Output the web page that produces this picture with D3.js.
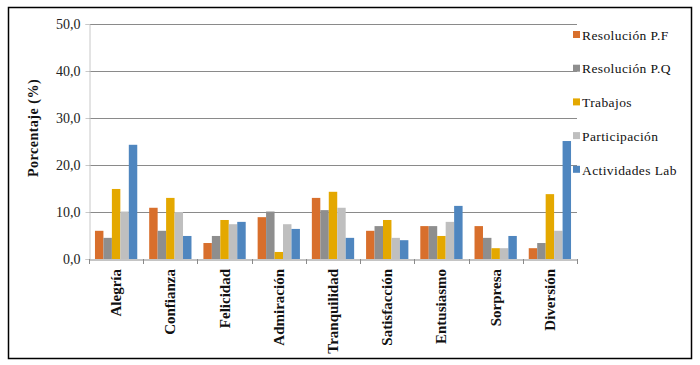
<!DOCTYPE html>
<html>
<head>
<meta charset="utf-8">
<script src="https://cdn.jsdelivr.net/npm/d3@7"></script>
<style>
  body { margin: 0; background: #fff; }
  svg { display: block; }
  text { font-family: 'Liberation Serif', serif; }
</style>
</head>
<body>
<svg id="chart" width="700" height="365"></svg>
<script>
const categories = ['Alegría', 'Confianza', 'Felicidad', 'Admiración', 'Tranquilidad', 'Satisfacción', 'Entusiasmo', 'Sorpresa', 'Diversión']
const seriesNames = ['Resolución P.F', 'Resolución P.Q', 'Trabajos', 'Participación', 'Actividades Lab']
const resolucionPF = [6.0, 10.9, 3.4, 8.9, 13.0, 6.0, 7.0, 7.0, 2.3]
const resolucionPQ = [4.5, 6.0, 4.9, 10.1, 10.4, 7.0, 7.0, 4.5, 3.4]
const trabajos = [14.9, 13.0, 8.3, 1.5, 14.3, 8.3, 4.9, 2.3, 13.8]
const participacion = [10.1, 10.0, 7.4, 7.4, 10.9, 4.5, 7.9, 2.3, 6.0]
const actividadesLab = [24.3, 4.9, 7.9, 6.4, 4.5, 4.0, 11.3, 4.9, 25.1]
const yTicks = [0, 10, 20, 30, 40, 50]
const colors = ['#d86f2c', '#8e8e8e', '#e4a800', '#bfbfbf', '#4f86bf']

const seriesValues = [resolucionPF, resolucionPQ, trabajos, participacion, actividadesLab]
const serif = 'Liberation Serif, Times New Roman, serif'

const svg = d3.select('#chart')
const margin = { left: 89, right: 577, top: 24, bottom: 259 }

// outer frame
svg.append('rect')
  .attr('x', 8.5).attr('y', 7.5)
  .attr('width', 683).attr('height', 351)
  .attr('fill', 'none')
  .attr('stroke', '#000')
  .attr('stroke-width', 1.5)

const x0 = d3.scaleBand()
  .domain(categories)
  .range([margin.left, margin.right])
  .paddingInner(0.22)
  .paddingOuter(0.11)

const x1 = d3.scaleBand()
  .domain(seriesNames)
  .range([0, x0.bandwidth()])

const y = d3.scaleLinear()
  .domain([0, 50])
  .range([margin.bottom, margin.top])

// gridlines
svg.append('g')
  .selectAll('line')
  .data(yTicks.slice(1))
  .join('line')
  .attr('x1', margin.left)
  .attr('x2', margin.right)
  .attr('y1', d => Math.round(y(d)) + 0.5)
  .attr('y2', d => Math.round(y(d)) + 0.5)
  .attr('stroke', '#8a8a8a')
  .attr('stroke-width', 1)

// y axis
const yAxis = d3.axisLeft(y)
  .tickValues(yTicks)
  .tickSize(4)
  .tickFormat(d => d3.format('.1f')(d).replace('.', ','))

const gy = svg.append('g')
  .attr('transform', `translate(${margin.left + 0.5},0)`)
  .call(yAxis)
  .attr('font-family', serif)
  .attr('font-size', 14)
gy.select('.domain').attr('stroke', '#c8c8c8')
gy.selectAll('.tick line').attr('stroke', '#c8c8c8')
gy.selectAll('.tick text')
  .attr('x', -9)
  .attr('fill', '#222')

// bars
const groups = svg.append('g')
  .selectAll('g')
  .data(categories)
  .join('g')
  .attr('transform', d => `translate(${x0(d)},0)`)

groups.selectAll('rect')
  .data((d, i) => seriesNames.map((s, j) => ({ s, j, v: seriesValues[j][i] })))
  .join('rect')
  .attr('x', d => x1(d.s))
  .attr('width', x1.bandwidth())
  .attr('y', d => y(d.v))
  .attr('height', d => y(0) - y(d.v))
  .attr('fill', d => colors[d.j])

// x axis
const xAxis = d3.axisBottom(x0).tickSize(0).tickFormat('')
const gx = svg.append('g')
  .attr('transform', `translate(0,${Math.round(y(0)) + 0.5})`)
  .call(xAxis)
gx.select('.domain').attr('stroke', '#8a8a8a')

const step = x0.step()
svg.append('g')
  .selectAll('line')
  .data(d3.range(categories.length + 1))
  .join('line')
  .attr('x1', i => Math.round(margin.left + i * step) + 0.5)
  .attr('x2', i => Math.round(margin.left + i * step) + 0.5)
  .attr('y1', y(0))
  .attr('y2', y(0) + 5)
  .attr('stroke', '#8a8a8a')

// category labels (rotated)
svg.append('g')
  .selectAll('text')
  .data(categories)
  .join('text')
  .attr('transform', d => `translate(${x0(d) + x0.bandwidth() / 2 + 5},${y(0) + 10}) rotate(-90)`)
  .attr('text-anchor', 'end')
  .attr('font-family', serif)
  .attr('font-size', 15)
  .attr('font-weight', 'bold')
  .attr('fill', '#111')
  .text(d => d)

// y title
svg.append('text')
  .attr('transform', 'translate(38,128) rotate(-90)')
  .attr('text-anchor', 'middle')
  .attr('font-family', serif)
  .attr('font-size', 14)
  .attr('font-weight', 'bold')
  .attr('letter-spacing', 0.5)
  .attr('fill', '#111')
  .text('Porcentaje (%)')

// legend
const legend = svg.append('g')
  .selectAll('g')
  .data(seriesNames)
  .join('g')
  .attr('transform', (d, i) => `translate(573,${35 + i * 33.7})`)

legend.append('rect')
  .attr('x', 0).attr('y', -4)
  .attr('width', 7).attr('height', 7)
  .attr('fill', (d, i) => colors[i])

legend.append('text')
  .attr('x', 9)
  .attr('y', 0)
  .attr('dy', '0.35em')
  .attr('font-family', serif)
  .attr('font-size', 13.5)
  .attr('letter-spacing', 0.4)
  .attr('fill', '#111')
  .text(d => d)
</script>
</body>
</html>
